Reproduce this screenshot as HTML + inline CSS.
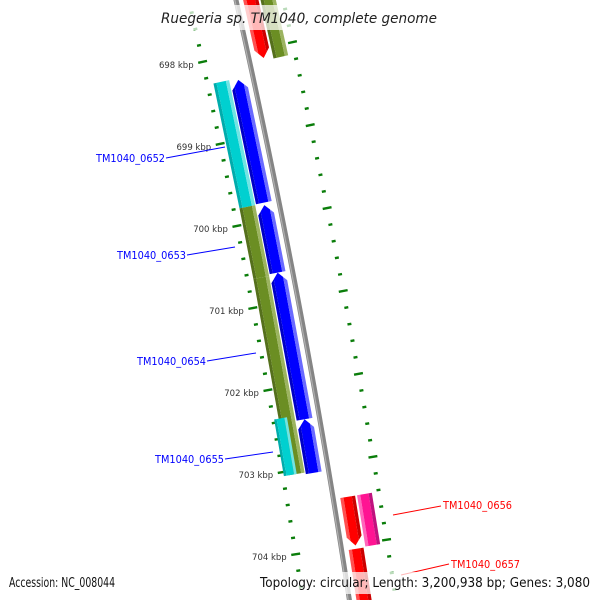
<!DOCTYPE html>
<html><head><meta charset="utf-8"><style>
html,body{margin:0;padding:0;background:#fff;width:600px;height:600px;overflow:hidden;}
svg{display:block;overflow:hidden;font-family:"DejaVu Sans","Liberation Sans",sans-serif;}
</style></head><body>
<svg id="map" width="600" height="600" viewBox="0 0 600 600" xmlns="http://www.w3.org/2000/svg">
<rect width="600" height="600" fill="#fff"/>
<g id="defsg"></g>
<g id="ticks"></g>
<g id="backbone"></g>
<g id="genes"></g>
<g id="labels"></g>
<rect x="155" y="5" width="290" height="25" fill="#fff" fill-opacity="0.72"/>
<text x="299" y="23" text-anchor="middle" font-size="14" font-style="italic" fill="#222" textLength="276" lengthAdjust="spacingAndGlyphs">Ruegeria sp. TM1040, complete genome</text>
<rect x="4" y="572" width="116" height="22" fill="#fff" fill-opacity="0.72"/>
<text x="9" y="587" font-size="13" fill="#111" textLength="106" lengthAdjust="spacingAndGlyphs">Accession: NC_008044</text>
<rect x="255" y="572" width="340" height="22" fill="#fff" fill-opacity="0.72"/>
<text x="260" y="587" font-size="13" fill="#111" textLength="330" lengthAdjust="spacingAndGlyphs">Topology: circular; Length: 3,200,938 bp; Genes: 3,080</text>
</svg>
<script>
// ---- data ----
const tickStart = 697.2;
const tickEnd = 704.8;
const majorTicks = [698, 699, 700, 701, 702, 703, 704];
const tickLabels = ["698 kbp", "699 kbp", "700 kbp", "701 kbp", "702 kbp", "703 kbp", "704 kbp"];
const geneStarts = [698.30, 699.82, 700.64, 702.42, 698.28, 699.80, 700.66, 702.36, 697.2, 697.2, 703.42, 703.42, 704.05];
const geneEnds   = [699.79, 700.64, 702.42, 703.07, 699.80, 700.66, 703.05, 703.05, 698.11, 698.14, 704.01, 704.04, 704.75];
const geneStrands = [-1, -1, -1, -1, -1, -1, -1, -1, 1, 1, 1, 1, 1];
const geneLanes = ["b", "b", "b", "b", "c", "c", "c", "d", "r", "s", "r", "s", "r"];
const geneColors = ["blue", "blue", "blue", "blue", "cyan", "olive", "olive", "cyan", "red", "olive", "red", "magenta", "red"];
const geneArrows = [1, 1, 1, 1, 0, 0, 0, 0, 1, 0, 1, 0, 0];
const geneNames = ["TM1040_0652", "TM1040_0653", "TM1040_0654", "TM1040_0655", "TM1040_0656", "TM1040_0657"];
const geneLabelColors = ["#0000ff", "#0000ff", "#0000ff", "#0000ff", "#ff0000", "#ff0000"];

// ---- geometry ----
const NS = "http://www.w3.org/2000/svg";
const PX_PER_KBP = 82.5;
function P(k, o) {
  const yb = 52 + (k - 698) * PX_PER_KBP;
  const x = 236 + 0.225 * yb - 0.00006 * yb * yb;
  const s = 0.225 - 0.00012 * yb;
  const L = Math.sqrt(1 + s * s);
  return [x + o / L, yb - o * s / L];
}
function pts(a) { return a.map(p => p[0].toFixed(2) + "," + p[1].toFixed(2)).join(" "); }
function mk(tag, attrs, parent) {
  const e = document.createElementNS(NS, tag);
  for (const k in attrs) e.setAttribute(k, attrs[k]);
  parent.appendChild(e);
  return e;
}
const laneOff = { b: [-23, -7], c: [-40, -24], d: [-45, -32], r: [7, 22], s: [24, 39] };
const palette = {
  blue:    ["#0000c8", "#0000ff", "#6a6aff"],
  cyan:    ["#00acac", "#00d0d0", "#70e4e4"],
  olive:   ["#55701c", "#6b8e23", "#9cb460"],
  red:     ["#ff5050", "#ff0000", "#cc0000"],
  magenta: ["#ff66bb", "#ff1493", "#c0127e"]
};

// backbone
const bb = document.getElementById("backbone");
let d1 = "", d2 = "";
for (let k = 697.0; k <= 704.9; k += 0.1) {
  const a = P(k, 0), b = P(k, -1.2);
  d1 += (d1 ? "L" : "M") + a[0].toFixed(2) + "," + a[1].toFixed(2);
  d2 += (d2 ? "L" : "M") + b[0].toFixed(2) + "," + b[1].toFixed(2);
}
const bbLine = mk("path", { d: d1, stroke: "#858585", "stroke-width": 5, fill: "none" }, bb);


const bbHi = mk("path", { d: d2, stroke: "#b0b0b0", "stroke-width": 1.2, fill: "none" }, bb);



// ticks
const tg = document.getElementById("ticks");
const nT = Math.round((tickEnd - tickStart) / 0.2);
for (let i = 0; i <= nT; i++) {
  const k = +(tickStart + i * 0.2).toFixed(2);
  const major = majorTicks.some(m => Math.abs(m - k) < 0.01);
  const len = major ? 4.5 : 2;
  [-46, 46].forEach(o => {
    const a = P(k, o - len), b = P(k, o + len);
    const t = mk("line", { x1: a[0], y1: a[1], x2: b[0], y2: b[1], stroke: "#0a7d0a", "stroke-width": 2.4 }, tg);
    
    
  });
}
majorTicks.forEach((m, i) => {
  const p = P(m, -46);
  const t = mk("text", { x: p[0] - 9, y: p[1] + 6, "text-anchor": "end", "font-size": 8.5, fill: "#333" }, tg);
  t.textContent = tickLabels[i];
  
  
});

// genes
const gg = document.getElementById("genes");
const defs = mk("defs", {}, document.getElementById("defsg"));
const TIP = 9 / PX_PER_KBP;
for (let i = 0; i < geneStarts.length; i++) {
  const [o1, o2] = laneOff[geneLanes[i]];
  const om = (o1 + o2) / 2;
  const k1 = geneStarts[i], k2 = geneEnds[i];
  let shape;
  if (geneArrows[i] && geneStrands[i] < 0) {
    shape = [P(k1, om), P(k1 + TIP, o2), P(k2, o2), P(k2, o1), P(k1 + TIP, o1)];
  } else if (geneArrows[i] && geneStrands[i] > 0) {
    shape = [P(k1, o1), P(k1, o2), P(k2 - TIP, o2), P(k2, om), P(k2 - TIP, o1)];
  } else {
    shape = [P(k1, o1), P(k1, o2), P(k2, o2), P(k2, o1)];
  }
  const cp = mk("clipPath", { id: "cp" + i }, defs);
  mk("polygon", { points: pts(shape) }, cp);
  const g = mk("g", { "clip-path": "url(#cp" + i + ")" }, gg);
  
  
  const c = palette[geneColors[i]];
  const w = o2 - o1;
  const f1 = geneStrands[i] < 0 ? 0.2 : 0.22, f2 = geneStrands[i] < 0 ? 0.8 : 0.78;
  const strips = [[o1 - 2, o1 + w * f1, c[0]], [o1 + w * f1, o1 + w * f2, c[1]], [o1 + w * f2, o2 + 2, c[2]]];
  strips.forEach(s => {
    const a = k1 - 0.2, b = k2 + 0.2;
    mk("polygon", { points: pts([P(a, s[0]), P(b, s[0]), P(b, s[1]), P(a, s[1])]), fill: s[2] }, g);
  });
}

// gene labels
const lg = document.getElementById("labels");
const labelText = [[165, 162, "end"], [186, 259, "end"], [206, 365, "end"], [224, 463, "end"], [443, 509, "start"], [451, 568, "start"]];
const labelLine = [[166, 158, 225, 147], [187, 255, 235, 247], [207, 361, 256, 353], [225, 459, 273, 452], [393, 515, 441, 506], [401, 575, 449, 564]];
geneNames.forEach((n, i) => {
  const L = labelLine[i];
  const ln = mk("line", { x1: L[0], y1: L[1], x2: L[2], y2: L[3], stroke: geneLabelColors[i], "stroke-width": 1 }, lg);
  
  
  const T = labelText[i];
  const t = mk("text", { x: T[0], y: T[1], "text-anchor": T[2], "font-size": 11, fill: geneLabelColors[i], textLength: 69, lengthAdjust: "spacingAndGlyphs" }, lg);
  t.textContent = n;
  
  
});
</script>
</body></html>
